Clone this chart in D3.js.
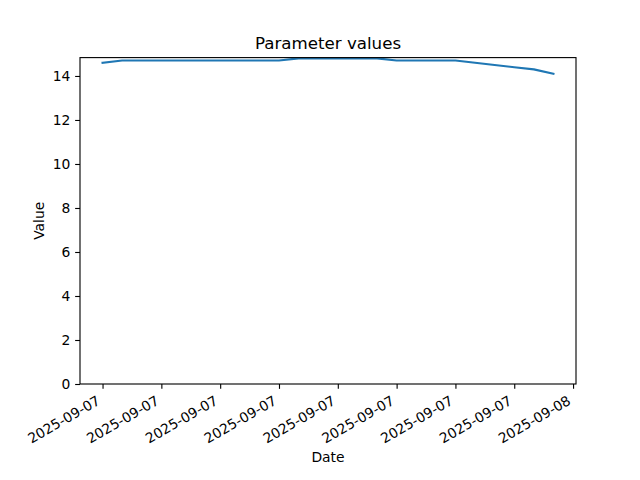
<!DOCTYPE html>
<html>
<head>
<meta charset="utf-8">
<script src="https://cdn.jsdelivr.net/npm/d3@7"></script>
<style>
  html, body { margin: 0; padding: 0; background: #fff; }
  svg { display: block; font-family: "DejaVu Sans", sans-serif; }
</style>
</head>
<body>
<div id="chart"></div>
<script>
// -----------------------------
// DATA
// -----------------------------
const HOURS = [0, 1, 2, 3, 4, 5, 6, 7, 8, 9, 10, 11, 12, 13, 14, 15, 16, 17, 18, 19, 20, 21, 22, 23];
const VALUES = [14.6, 14.7, 14.7, 14.7, 14.7, 14.7, 14.7, 14.7, 14.7, 14.7,
                14.8, 14.8, 14.8, 14.8, 14.8, 14.7, 14.7, 14.7, 14.7,
                14.6, 14.5, 14.4, 14.3, 14.1];
const Y_TICKS = [0, 2, 4, 6, 8, 10, 12, 14];
const X_TICK_HOURS = [0, 3, 6, 9, 12, 15, 18, 21, 24];
const TITLE = "Parameter values";
const X_LABEL = "Date";
const Y_LABEL = "Value";

const day = (h) => new Date(2025, 8, 7, h, 0, 0);
const data = HOURS.map((h, i) => ({ date: day(h), value: VALUES[i] }));

// -----------------------------
// LAYOUT (matplotlib-like, 100 dpi)
// -----------------------------
const PT = 100 / 72;
const width = 640, height = 480;
const plotL = 80, plotR = 576, plotT = 57.6, plotB = 384;
const tickFont = 10 * PT;

const svg = d3.select("#chart").append("svg")
  .attr("width", width)
  .attr("height", height);

// x with 5% margins
const t0 = data[0].date, t1 = data[data.length - 1].date;
const pad = (t1 - t0) * 0.05;
const xScale = d3.scaleTime()
  .domain([new Date(+t0 - pad), new Date(+t1 + pad)])
  .range([plotL, plotR]);

const yMax = d3.max(VALUES) + (d3.max(VALUES) - d3.min(VALUES)) * 0.05;
const yScale = d3.scaleLinear()
  .domain([0, yMax])
  .range([plotB, plotT]);

// clip
svg.append("clipPath").attr("id", "plot-clip")
  .append("rect")
  .attr("x", plotL).attr("y", plotT)
  .attr("width", plotR - plotL).attr("height", plotB - plotT);

// line
const lineGen = d3.line()
  .x(d => xScale(d.date))
  .y(d => yScale(d.value));

svg.append("path")
  .datum(data)
  .attr("clip-path", "url(#plot-clip)")
  .attr("fill", "none")
  .attr("stroke", "#1f77b4")
  .attr("stroke-width", 1.5 * PT)
  .attr("stroke-linejoin", "round")
  .attr("stroke-linecap", "square")
  .attr("d", lineGen);

// y axis
const yAxis = svg.append("g")
  .attr("transform", `translate(${plotL},0)`)
  .call(d3.axisLeft(yScale).tickValues(Y_TICKS).tickSize(3.5 * PT).tickPadding(3.5 * PT).tickFormat(d3.format("d")));
yAxis.select(".domain").remove();
yAxis.selectAll(".tick line").attr("stroke", "#000").attr("stroke-width", 0.8 * PT);
yAxis.selectAll(".tick text")
  .attr("font-family", "DejaVu Sans")
  .attr("font-size", tickFont)
  .attr("fill", "#000");

// x axis
const xTicks = X_TICK_HOURS.map(day);
const xAxis = svg.append("g")
  .attr("transform", `translate(0,${plotB})`)
  .call(d3.axisBottom(xScale).tickValues(xTicks).tickSize(3.5 * PT).tickFormat(d3.timeFormat("%Y-%m-%d")));
xAxis.select(".domain").remove();
xAxis.selectAll(".tick line").attr("stroke", "#000").attr("stroke-width", 0.8 * PT);
xAxis.selectAll(".tick text")
  .attr("font-family", "DejaVu Sans")
  .attr("font-size", tickFont)
  .attr("fill", "#000")
  .attr("dy", null)
  .attr("y", null)
  .attr("text-anchor", "end")
  .attr("transform", "translate(-1.8,19.5) rotate(-30)");

// spines
svg.append("rect")
  .attr("x", plotL).attr("y", plotT)
  .attr("width", plotR - plotL).attr("height", plotB - plotT)
  .attr("fill", "none")
  .attr("stroke", "#000")
  .attr("stroke-width", 0.8 * PT);

// title & labels
svg.append("text")
  .attr("x", (plotL + plotR) / 2)
  .attr("y", 49.3)
  .attr("text-anchor", "middle")
  .attr("font-size", 12 * PT)
  .attr("fill", "#000")
  .text(TITLE);

svg.append("text")
  .attr("x", (plotL + plotR) / 2)
  .attr("y", 462)
  .attr("text-anchor", "middle")
  .attr("font-size", tickFont)
  .attr("fill", "#000")
  .text(X_LABEL);

svg.append("text")
  .attr("transform", `translate(44,${(plotT + plotB) / 2}) rotate(-90)`)
  .attr("text-anchor", "middle")
  .attr("font-size", tickFont)
  .attr("fill", "#000")
  .text(Y_LABEL);
</script>
</body>
</html>
